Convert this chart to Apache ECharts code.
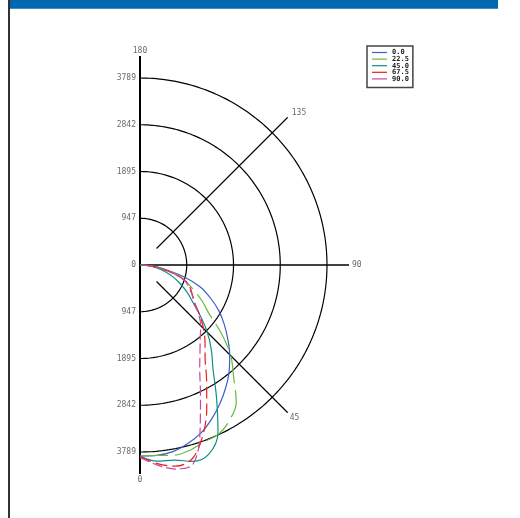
<!DOCTYPE html>
<html>
<head>
<meta charset="utf-8">
<script src="https://cdn.jsdelivr.net/npm/echarts@6/dist/echarts.min.js"></script>
<style>html,body{margin:0;padding:0;background:#fff}#c{width:520px;height:518px}</style>
</head>
<body>
<div id="c"></div>
<script>
// ---- data ----
const angles = [0,5,10,15,20,25,30,35,40,45,50,55,60,65,70,75,80,85,90];
const planeNames = ['0.0','22.5','45.0','67.5','90.0'];
const c0   = [3870,3872,3840,3745,3620,3440,3240,3030,2810,2570,2320,2080,1840,1570,1300,920,510,250,0];
const c225 = [3870,3875,3915,3890,3810,3780,3630,3400,2950,2600,2150,1700,1450,1200,1000,800,550,250,0];
const c45  = [3870,3990,4015,4120,4080,3740,3100,2580,2250,1930,1590,1300,1100,900,720,530,360,180,0];
const c675 = [3880,4040,4140,4070,3700,3200,2700,2300,2050,1820,1580,1360,1230,1130,1000,750,450,200,0];
const c90  = [3900,4070,4200,4170,3560,2900,2420,2120,1900,1740,1550,1340,1220,1100,980,740,450,200,0];
const ringTicks = [947,1895,2842,3789];
const angleTicks = [0,45,90,135,180];
const rMax = 4235;

const planeValues = [c0,c225,c45,c675,c90];
const colors = ['#3d5fc8','#66bb3a','#0f8f86','#ee1c1c','#c8489e'];
const dashes = ['solid',[28,7],'solid',[12,5],[10,4]];

const chart = echarts.init(document.getElementById('c'), null, {renderer:'canvas'});
const series = [];

// grid arcs
ringTicks.forEach(v => {
  const pts = [];
  for (let a = 0; a <= 180; a += 1) pts.push([v, a]);
  series.push({type:'line', coordinateSystem:'polar', data:pts, symbol:'none', silent:true,
    lineStyle:{color:'#000', width:1.2}, z:1, animation:false});
});
// axes lines
const axisLine = (r0, r1, a, w) => series.push({type:'line', coordinateSystem:'polar',
  data:[[r0,a],[r1,a]], symbol:'none', silent:true, lineStyle:{color:'#000', width:w}, z:2, animation:false});
axisLine(0, rMax, 0, 2);
axisLine(0, rMax, 180, 2);
axisLine(0, rMax, 90, 1.5);
axisLine(ringTicks[0]/2, rMax, 45, 1.2);
axisLine(ringTicks[0]/2, rMax, 135, 1.2);

// curves
planeNames.forEach((n, i) => {
  series.push({name:n, type:'line', coordinateSystem:'polar', smooth:0.35,
    data: angles.map((a, j) => [planeValues[i][j], a]), symbol:'none',
    lineStyle:{color:colors[i], width:1.2, type:dashes[i]}, itemStyle:{color:colors[i]},
    z:5, animation:false});
});

const txt = {fontFamily:'DejaVu Sans Mono', fontSize:8, color:'#444'};
// radius labels
const rl = [[0,0]];
ringTicks.forEach(v => { rl.push([v,180]); rl.push([v,0]); });
series.push({type:'scatter', coordinateSystem:'polar', symbolSize:0, silent:true, animation:false,
  data: rl, label:Object.assign({show:true, position:'left', distance:4,
    formatter: p => String(p.value[0])}, txt), z:6});
// angle labels
const angPos = {0:{position:'bottom',distance:2}, 45:{position:[2,5], align:'left', verticalAlign:'middle'},
  90:{position:'right',distance:3}, 135:{position:[4,-4], align:'left', verticalAlign:'middle'},
  180:{position:'top',distance:1}};
series.push({type:'scatter', coordinateSystem:'polar', symbolSize:0, silent:true, animation:false,
  data: angleTicks.map(a => ({value:[rMax, a], label:Object.assign({show:true, formatter:String(a)}, txt, angPos[a])})),
  z:6});

chart.setOption({
  animation:false,
  polar:{center:[140,265], radius:209},
  angleAxis:{type:'value', min:0, max:360, startAngle:270, clockwise:false, show:false},
  radiusAxis:{type:'value', min:0, max:rMax, show:false},
  legend:{data:planeNames, orient:'vertical', left:367, top:46, padding:[3,4,5,5],
    itemWidth:15, itemHeight:1.2, itemGap:-0.4, icon:'rect',
    borderColor:'#444', borderWidth:1.5,
    textStyle:{fontFamily:'DejaVu Sans Mono', fontSize:7, fontWeight:'bold', color:'#222', lineHeight:6}},
  graphic:[
    {type:'rect', shape:{x:10, y:0, width:488, height:8.7}, style:{fill:'#0068b0'}},
    {type:'rect', shape:{x:8, y:0, width:2, height:518}, style:{fill:'#333'}}
  ],
  series: series
});
</script>
</body>
</html>
